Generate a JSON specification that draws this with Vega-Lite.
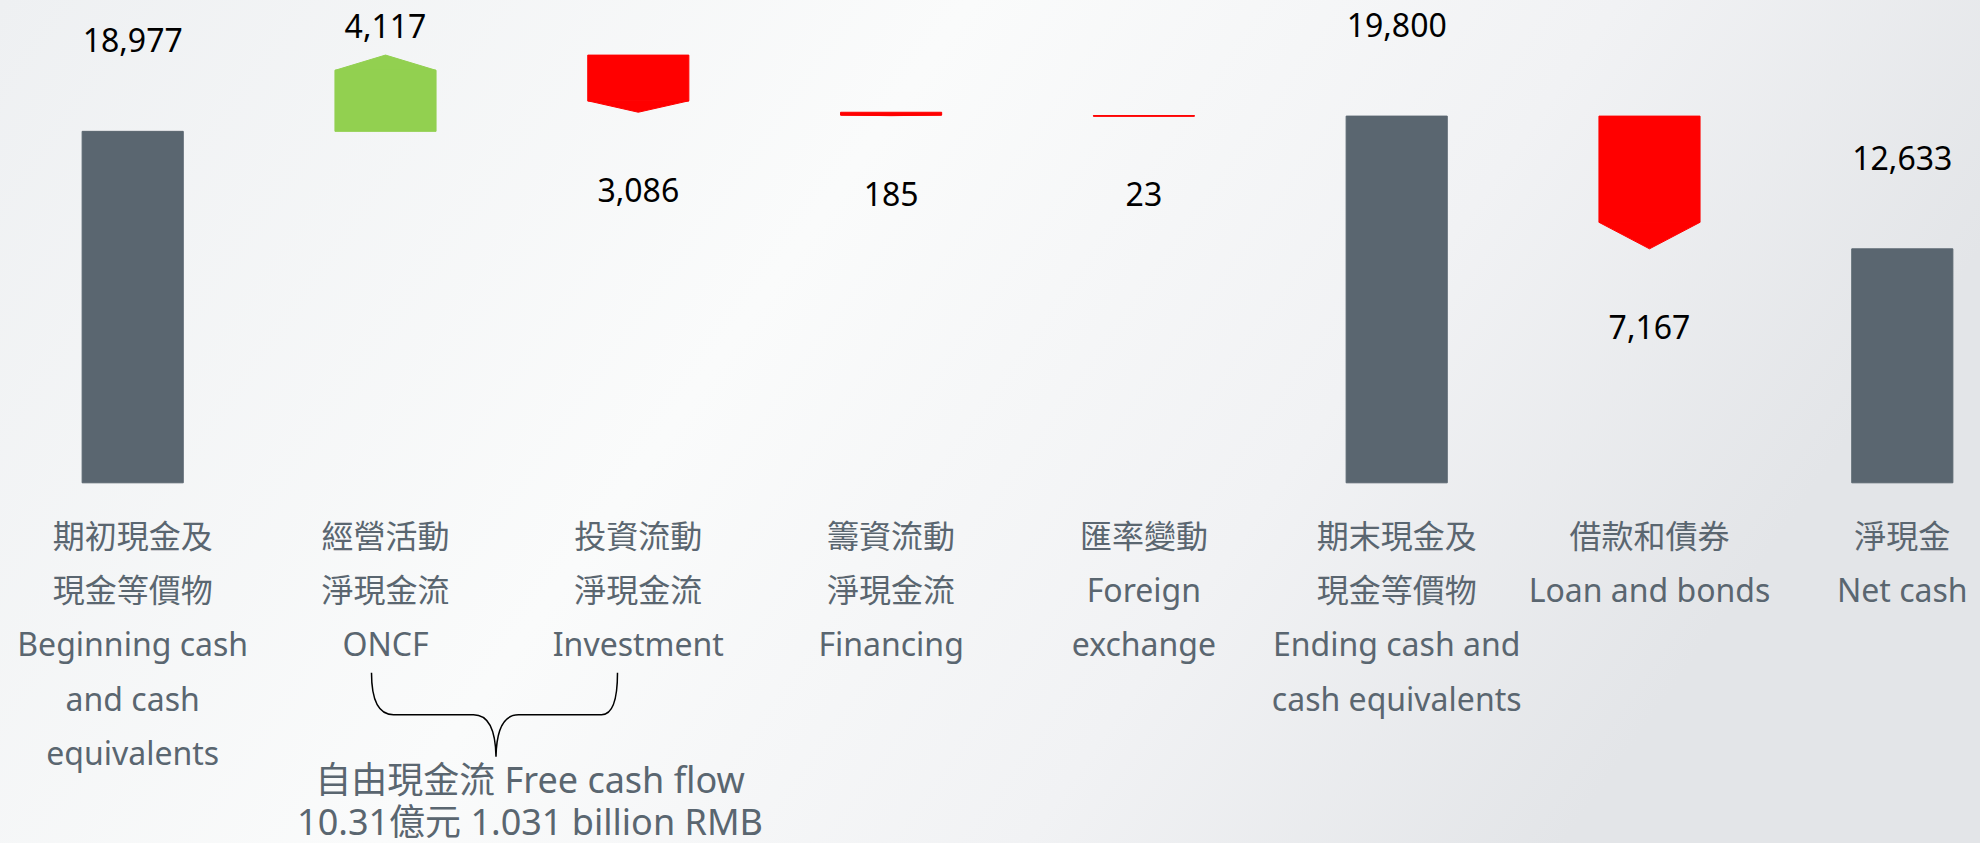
{
  "$schema": "https://vega.github.io/schema/vega-lite/v6.json",
  "width": 1980,
  "height": 843,
  "autosize": {"type": "none"},
  "padding": 0,
  "background": "#f4f5f7",
  "config": {
    "view": {"stroke": null, "fill": {"gradient": "linear", "x1": 0, "y1": 0, "x2": 1, "y2": 0.3, "stops": [{"offset": 0, "color": "#eef0f2"}, {"offset": 0.45, "color": "#fafbfb"}, {"offset": 0.75, "color": "#f1f2f4"}, {"offset": 1, "color": "#e3e5e8"}]}},
    "text": {"font": "Noto Sans, Noto Sans CJK TC"}
  },
  "datasets": {
    "flows": [
      {"cat": "begin", "type": "total", "start": 0, "end": 18977, "amount": 18977, "label": "期初現金及\n現金等價物\nBeginning cash\nand cash\nequivalents"},
      {"cat": "oncf", "type": "increase", "start": 18977, "end": 23094, "amount": 4117, "label": "經營活動\n淨現金流\nONCF"},
      {"cat": "inv", "type": "decrease", "start": 23094, "end": 20008, "amount": 3086, "label": "投資流動\n淨現金流\nInvestment"},
      {"cat": "fin", "type": "decrease", "start": 20008, "end": 19823, "amount": 185, "label": "籌資流動\n淨現金流\nFinancing"},
      {"cat": "fx", "type": "decrease", "start": 19823, "end": 19800, "amount": 23, "label": "匯率變動\nForeign\nexchange"},
      {"cat": "end", "type": "total", "start": 0, "end": 19800, "amount": 19800, "label": "期末現金及\n現金等價物\nEnding cash and\ncash equivalents"},
      {"cat": "loan", "type": "decrease", "start": 19800, "end": 12633, "amount": 7167, "label": "借款和債券\nLoan and bonds"},
      {"cat": "net", "type": "total", "start": 0, "end": 12633, "amount": 12633, "label": "淨現金\nNet cash"}
    ],
    "fcf": [
      {"cat": "oncf", "fcf": 1031, "label": "自由現金流 Free cash flow\n10.31億元 1.031 billion RMB"}
    ]
  },
  "data": {"name": "flows"},
  "encoding": {
    "x": {"field": "cat", "type": "nominal", "axis": null,
      "scale": {"type": "band", "domain": ["begin", "oncf", "inv", "fin", "fx", "end", "loan", "net"], "range": [6.3, 2028.7], "paddingInner": 0.6, "paddingOuter": 0.3}}
  },
  "layer": [
    {
      "transform": [{"calculate": "datum.type == 'total' ? datum.end : datum.end - 0.2 * (datum.end - datum.start)", "as": "shoulder"}],
      "mark": {"type": "bar", "strokeWidth": 1},
      "encoding": {
        "y": {"field": "start", "type": "quantitative", "axis": null, "scale": {"domain": [-19449, 26069], "nice": false, "zero": false}},
        "y2": {"field": "shoulder"},
        "color": {"field": "type", "type": "nominal", "legend": null, "scale": {"domain": ["total", "increase", "decrease"], "range": ["#5a6670", "#92d050", "#ff0000"]}},
        "stroke": {"field": "type", "type": "nominal", "legend": null, "scale": {"domain": ["total", "increase", "decrease"], "range": ["#5a6670", "#92d050", "#ff0000"]}}
      }
    },
    {
      "transform": [
        {"filter": "datum.type != 'total'"},
        {"calculate": "datum.end - 0.2 * (datum.end - datum.start)", "as": "shoulder"}
      ],
      "mark": {"type": "point", "filled": true, "opacity": 1, "strokeWidth": 1, "size": 10225},
      "encoding": {
        "y": {"field": "shoulder", "type": "quantitative"},
        "color": {"field": "type", "type": "nominal", "legend": null},
        "stroke": {"field": "type", "type": "nominal", "legend": null},
        "shape": {"field": "cat", "type": "nominal", "legend": null, "scale": {"domain": ["oncf", "inv", "fin", "fx", "loan"], "range": ["M-1,0L0,-0.302L1,0Z", "M-1,0L0,0.226L1,0Z", "M-1,0L0,0.0136L1,0Z", "M-1,0L0,0.0017L1,0Z", "M-1,0L0,0.525L1,0Z"]}}
      }
    },
    {
      "transform": [{"filter": "datum.type == 'total'"}],
      "mark": {"type": "text", "fontSize": 32, "color": "#000000", "align": "center", "baseline": "alphabetic", "dy": -79},
      "encoding": {
        "y": {"field": "end", "type": "quantitative"},
        "text": {"field": "amount", "type": "quantitative", "format": ",d"}
      }
    },
    {
      "transform": [{"filter": "datum.type == 'increase'"}],
      "mark": {"type": "text", "fontSize": 32, "color": "#000000", "align": "center", "baseline": "alphabetic", "dy": -17},
      "encoding": {
        "y": {"field": "end", "type": "quantitative"},
        "text": {"field": "amount", "type": "quantitative", "format": ",d"}
      }
    },
    {
      "transform": [{"filter": "datum.type == 'decrease'"}],
      "mark": {"type": "text", "fontSize": 32, "color": "#000000", "align": "center", "baseline": "alphabetic", "dy": 90},
      "encoding": {
        "y": {"field": "end", "type": "quantitative"},
        "text": {"field": "amount", "type": "quantitative", "format": ",d"}
      }
    },
    {
      "mark": {"type": "text", "fontSize": 32, "color": "#5a6670", "align": "center", "baseline": "alphabetic", "dy": 65, "lineHeight": 54.3, "lineBreak": "\n"},
      "encoding": {
        "y": {"datum": 0, "type": "quantitative"},
        "text": {"field": "label", "type": "nominal"}
      }
    },
    {
      "data": {"name": "fcf"},
      "mark": {"type": "point", "filled": false, "opacity": 1, "color": "#000000", "strokeWidth": 1.5, "size": 4,
        "shape": "M-14,190C-14,215 -8,232 8,232L88,232C102,232 110,245 110.5,274C111,245 119,232 133,232L216,232C228,232 232,215 232,190"},
      "encoding": {
        "y": {"datum": 0, "type": "quantitative"}
      }
    },
    {
      "data": {"name": "fcf"},
      "mark": {"type": "text", "fontSize": 36, "color": "#5a6670", "align": "center", "baseline": "alphabetic", "dx": 144.5, "dy": 310.5, "lineHeight": 42, "lineBreak": "\n"},
      "encoding": {
        "y": {"datum": 0, "type": "quantitative"},
        "text": {"field": "label", "type": "nominal"}
      }
    }
  ]
}
